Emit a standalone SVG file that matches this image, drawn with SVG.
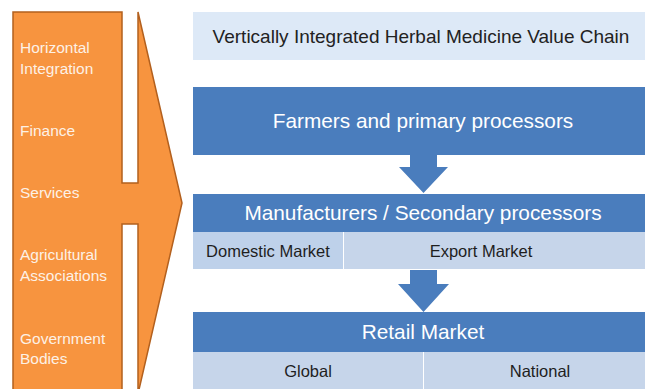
<svg xmlns="http://www.w3.org/2000/svg" width="645" height="389" viewBox="0 0 645 389">
<style>
.side{font-family:"Liberation Sans",Arial,sans-serif;font-size:15.5px;fill:#fdf1e6}
.hdr{font-family:"Liberation Sans",Arial,sans-serif;font-size:20.8px;fill:#ffffff;text-anchor:middle}
.cell{font-family:"Liberation Sans",Arial,sans-serif;font-size:16.5px;fill:#1e1e1e;text-anchor:middle}
.blue{fill:#4a7dbd}
.lt{fill:#c6d5ea}
</style>
<rect width="645" height="389" fill="#ffffff"/>
<g id="side-arrow">
<path d="M13,12 H122 V183 H138 V12 L182,203 L138,394 V224 H122 V394 H13 Z" fill="#f7943f" stroke="#b3601e" stroke-width="1.5"/>
<text class="side" x="20" y="53">Horizontal</text>
<text class="side" x="20" y="74">Integration</text>
<text class="side" x="20" y="136">Finance</text>
<text class="side" x="20" y="198">Services</text>
<text class="side" x="20" y="260">Agricultural</text>
<text class="side" x="20" y="281">Associations</text>
<text class="side" x="20" y="344">Government</text>
<text class="side" x="20" y="364">Bodies</text>
</g>
<g id="title">
<rect x="193" y="12" width="452" height="48" fill="#dde9f7"/>
<text x="421" y="43" font-family="Liberation Sans, Arial, sans-serif" font-size="19" fill="#222222" text-anchor="middle">Vertically Integrated Herbal Medicine Value Chain</text>
</g>
<g id="farmers">
<rect class="blue" x="193" y="87" width="452" height="68"/>
<text class="hdr" x="423" y="128">Farmers and primary processors</text>
</g>
<g id="connectors">
<path class="blue" d="M410,155 H437 V167 H448 L423.5,193 L399,167 H410 Z"/>
<path class="blue" d="M410,270 H437 V284 H449 L423.5,312 L398,284 H410 Z"/>
</g>
<g id="manufacturers">
<rect class="blue" x="193" y="194" width="452" height="38"/>
<text class="hdr" x="423" y="220">Manufacturers / Secondary processors</text>
<rect x="193" y="232" width="150" height="37" fill="#bed1ea"/>
<rect class="lt" x="344" y="232" width="301" height="37"/>
<text class="cell" x="268" y="257">Domestic Market</text>
<text class="cell" x="481" y="257">Export Market</text>
</g>
<g id="retail">
<rect class="blue" x="193" y="312" width="452" height="40"/>
<text class="hdr" x="423" y="339">Retail Market</text>
<rect class="lt" x="193" y="352" width="230" height="37"/>
<rect class="lt" x="424" y="352" width="221" height="37"/>
<text class="cell" x="308" y="377">Global</text>
<text class="cell" x="540" y="377">National</text>
</g>
</svg>
